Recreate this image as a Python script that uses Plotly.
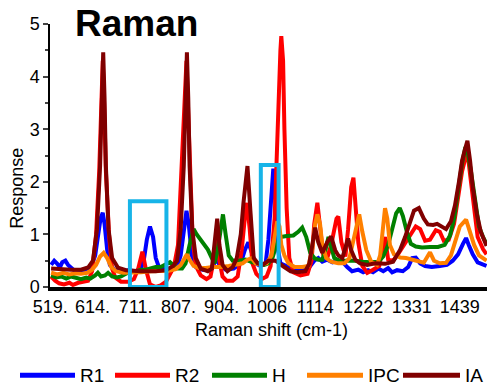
import plotly.graph_objects as go

# Raman shift (cm-1) and response for each sample
r1_shift = [521, 528, 535, 541, 546, 553, 559, 566, 575, 588, 602, 611, 620, 626, 632, 637, 641, 647, 653, 664,
            678, 694, 712, 723, 729, 736, 743, 750, 756, 763, 774, 790, 804, 812, 819, 825, 830, 837, 846, 861,
            875, 886, 893, 899, 913, 931, 947, 956, 964, 971, 980, 991, 1003, 1009, 1015, 1020, 1025, 1029, 1036, 1047,
            1059, 1074, 1090, 1103, 1112, 1121, 1130, 1141, 1153, 1164, 1175, 1186, 1197, 1211, 1222, 1233, 1244, 1256, 1267, 1278,
            1287, 1298, 1311, 1323, 1332, 1340, 1350, 1361, 1376, 1394, 1410, 1423, 1435, 1446, 1453, 1459, 1468, 1479, 1491, 1499]
r1_resp = [0.42, 0.50, 0.44, 0.38, 0.47, 0.50, 0.42, 0.36, 0.30, 0.28, 0.30, 0.38, 0.60, 0.95, 1.30, 1.41, 1.20, 0.70, 0.42, 0.33,
           0.30, 0.32, 0.30, 0.36, 0.50, 0.90, 1.15, 0.95, 0.55, 0.38, 0.35, 0.34, 0.38, 0.60, 1.00, 1.45, 1.20, 0.60, 0.38, 0.33,
           0.33, 0.42, 0.55, 0.42, 0.33, 0.35, 0.45, 0.70, 0.85, 0.65, 0.45, 0.40, 0.46, 0.90, 1.60, 2.25, 1.60, 0.80, 0.45, 0.40,
           0.36, 0.34, 0.36, 0.40, 0.50, 0.55, 0.48, 0.52, 0.47, 0.50, 0.48, 0.38, 0.30, 0.33, 0.28, 0.32, 0.28, 0.35, 0.30, 0.36,
           0.28, 0.32, 0.30, 0.38, 0.55, 0.56, 0.45, 0.40, 0.38, 0.40, 0.42, 0.50, 0.62, 0.82, 0.93, 0.80, 0.62, 0.47, 0.42, 0.40]

r2_shift = [521, 530, 539, 550, 562, 570, 582, 593, 604, 613, 622, 629, 633, 637, 640, 644, 651, 658, 665, 678,
            694, 707, 716, 726, 734, 743, 756, 767, 779, 785, 797, 806, 812, 819, 825, 829, 835, 839, 846, 857,
            870, 879, 886, 893, 899, 906, 915, 929, 940, 949, 956, 961, 967, 973, 982, 994, 1005, 1014, 1023, 1029,
            1036, 1038, 1042, 1045, 1050, 1056, 1065, 1081, 1097, 1106, 1112, 1119, 1126, 1132, 1141, 1150, 1162, 1166, 1173, 1182,
            1188, 1195, 1200, 1204, 1211, 1220, 1231, 1244, 1258, 1267, 1271, 1278, 1289, 1300, 1314, 1327, 1340, 1350, 1361, 1372,
            1385, 1394, 1403, 1414, 1426, 1435, 1444, 1453, 1457, 1464, 1471, 1479, 1491, 1499]
r2_resp = [0.20, 0.12, 0.07, 0.05, 0.08, 0.04, 0.08, 0.10, 0.12, 0.30, 1.00, 2.20, 3.50, 4.30, 3.50, 2.20, 1.00, 0.35, 0.18, 0.10,
           0.10, 0.15, 0.33, 0.67, 0.33, 0.05, 0.00, 0.03, 0.10, 0.20, 0.39, 0.80, 1.80, 3.30, 4.30, 3.30, 1.80, 0.90, 0.40, 0.22,
           0.15, 0.20, 0.50, 0.92, 0.50, 0.20, 0.12, 0.12, 0.20, 0.70, 1.30, 1.60, 1.10, 0.45, 0.25, 0.15, 0.20, 0.40, 1.30, 3.00,
           4.50, 4.77, 4.30, 3.00, 1.50, 0.55, 0.28, 0.22, 0.25, 0.50, 1.20, 1.60, 1.10, 0.62, 0.55, 0.80, 1.30, 1.34, 0.85, 0.58,
           1.10, 1.90, 2.08, 1.60, 0.84, 0.40, 0.27, 0.33, 0.40, 0.80, 0.95, 0.52, 0.50, 0.62, 0.80, 1.00, 1.15, 1.10, 0.88, 0.90,
           1.08, 1.05, 0.88, 0.90, 1.20, 1.70, 2.20, 2.50, 2.50, 2.00, 1.45, 0.95, 0.72, 0.62]

h_shift = [521, 532, 544, 555, 566, 577, 588, 600, 609, 620, 626, 633, 642, 649, 658, 669, 678, 689, 700, 712,
           723, 734, 745, 756, 767, 779, 788, 797, 806, 815, 823, 832, 841, 848, 857, 866, 873, 882, 888, 895,
           902, 907, 913, 920, 929, 942, 958, 973, 987, 1000, 1009, 1018, 1027, 1036, 1050, 1065, 1076, 1085, 1094, 1103,
           1112, 1121, 1130, 1137, 1144, 1150, 1157, 1170, 1186, 1204, 1220, 1238, 1256, 1267, 1278, 1287, 1296, 1304, 1311, 1320,
           1329, 1340, 1354, 1372, 1390, 1405, 1417, 1426, 1435, 1444, 1450, 1457, 1464, 1473, 1482, 1491, 1499]
h_resp = [0.22, 0.18, 0.20, 0.16, 0.20, 0.17, 0.15, 0.18, 0.16, 0.22, 0.27, 0.20, 0.22, 0.27, 0.20, 0.18, 0.20, 0.25, 0.30, 0.30,
          0.33, 0.33, 0.36, 0.38, 0.38, 0.42, 0.47, 0.40, 0.35, 0.35, 0.45, 0.80, 1.10, 1.00, 0.90, 0.80, 0.71, 0.55, 0.45, 0.70,
          1.15, 1.38, 1.00, 0.60, 0.50, 0.50, 0.52, 0.47, 0.45, 0.42, 0.45, 0.55, 0.80, 0.95, 0.97, 0.98, 1.05, 1.13, 0.95, 0.65,
          0.55, 0.52, 0.52, 0.70, 0.95, 0.75, 0.55, 0.50, 0.50, 0.50, 0.48, 0.47, 0.48, 0.58, 0.80, 1.10, 1.40, 1.50, 1.35, 1.05,
          0.82, 0.77, 0.75, 0.76, 0.76, 0.80, 0.98, 1.30, 1.90, 2.35, 2.60, 2.55, 2.20, 1.60, 1.15, 0.95, 0.82]

ipc_shift = [521, 535, 548, 562, 575, 588, 602, 613, 622, 631, 639, 647, 656, 667, 683, 700, 723, 745, 767, 785,
             801, 812, 819, 826, 832, 841, 853, 868, 884, 902, 920, 938, 951, 962, 971, 980, 991, 1005, 1016, 1023,
             1029, 1034, 1038, 1045, 1054, 1068, 1085, 1099, 1108, 1114, 1119, 1125, 1130, 1139, 1150, 1166, 1180, 1191, 1200, 1209,
             1213, 1220, 1229, 1240, 1253, 1260, 1267, 1271, 1276, 1282, 1291, 1305, 1318, 1332, 1345, 1358, 1372, 1381, 1394, 1408,
             1419, 1430, 1439, 1453, 1462, 1471, 1482, 1493, 1499]
ipc_resp = [0.27, 0.24, 0.27, 0.24, 0.26, 0.25, 0.27, 0.33, 0.42, 0.58, 0.65, 0.55, 0.38, 0.30, 0.27, 0.27, 0.28, 0.30, 0.30, 0.31,
            0.34, 0.42, 0.52, 0.62, 0.52, 0.40, 0.36, 0.36, 0.38, 0.38, 0.40, 0.42, 0.45, 0.52, 0.55, 0.45, 0.42, 0.45, 0.60, 0.95,
            1.25, 1.15, 0.80, 0.60, 0.45, 0.38, 0.38, 0.40, 0.75, 1.20, 1.38, 1.20, 0.80, 0.55, 0.48, 0.45, 0.45, 0.55, 0.90, 1.25,
            1.38, 1.05, 0.70, 0.48, 0.42, 0.60, 1.20, 1.50, 1.30, 0.80, 0.62, 0.56, 0.55, 0.52, 0.48, 0.46, 0.66, 0.50, 0.45, 0.46,
            0.60, 0.90, 1.15, 1.28, 1.05, 0.80, 0.60, 0.52, 0.50]

ia_shift = [521, 544, 566, 588, 604, 615, 624, 631, 635, 638, 641, 644, 650, 658, 671, 689, 723, 756, 779, 795,
            804, 812, 819, 823, 826, 829, 832, 838, 846, 857, 873, 882, 888, 894, 899, 906, 917, 929, 938, 947,
            953, 962, 969, 976, 985, 996, 1009, 1025, 1043, 1059, 1074, 1092, 1101, 1108, 1114, 1121, 1130, 1141, 1150, 1159,
            1166, 1175, 1182, 1188, 1195, 1204, 1215, 1231, 1249, 1271, 1289, 1305, 1316, 1327, 1336, 1347, 1358, 1367, 1379, 1388,
            1397, 1408, 1419, 1428, 1437, 1444, 1450, 1456, 1462, 1468, 1477, 1486, 1499]
ia_resp = [0.35, 0.33, 0.33, 0.33, 0.37, 0.50, 1.10, 2.30, 3.60, 4.46, 3.60, 2.30, 1.10, 0.55, 0.37, 0.32, 0.30, 0.30, 0.32, 0.40,
           0.50, 1.10, 2.30, 3.60, 4.46, 3.60, 2.30, 1.10, 0.55, 0.35, 0.30, 0.35, 0.80, 1.30, 0.80, 0.42, 0.30, 0.38, 0.55, 1.00,
           1.60, 2.30, 1.40, 0.55, 0.45, 0.42, 0.50, 0.50, 0.39, 0.30, 0.28, 0.30, 0.45, 0.85, 1.13, 0.85, 0.65, 0.85, 0.96, 0.70,
           0.60, 0.55, 0.75, 0.92, 0.70, 0.52, 0.45, 0.42, 0.45, 0.44, 0.48, 0.71, 0.95, 1.22, 1.45, 1.50, 1.30, 1.19, 1.18, 1.20,
           1.15, 1.10, 1.25, 1.55, 2.00, 2.40, 2.60, 2.78, 2.40, 1.90, 1.40, 1.05, 0.78]

series = [
    ("R1", r1_shift, r1_resp, "#0000FF"),
    ("R2", r2_shift, r2_resp, "#FF0000"),
    ("H", h_shift, h_resp, "#008000"),
    ("IPC", ipc_shift, ipc_resp, "#FF8000"),
    ("IA", ia_shift, ia_resp, "#800000"),
]

tick_values = [519, 614, 711, 807, 904, 1006, 1114, 1222, 1331, 1439]
tick_text = ["519.", "614.", "711.", "807.", "904.", "1006", "1114", "1222", "1331", "1439"]

# highlighted bands (cm-1) and their heights
highlight_bands = [(698, 780, 1.63), (992, 1032, 2.32)]

FONT = "Liberation Sans, Arial, sans-serif"
W, H = 489, 386
L, R, T, B = 50, 2, 24, 98.5
plot_w = W - L - R
plot_h = H - T - B


def px_x(px):
    return (px - L) / plot_w


def px_y(py):
    return (H - B - py) / plot_h


fig = go.Figure()
for name, xs, ys, color in series:
    fig.add_trace(go.Scatter(x=xs, y=ys, mode="lines", name=name,
                             line=dict(color=color, width=4), showlegend=False))

for x0, x1, top in highlight_bands:
    fig.add_shape(type="rect", xref="x", yref="y", x0=x0, x1=x1, y0=0, y1=top,
                  line=dict(color="#17B4E8", width=4), fillcolor="rgba(0,0,0,0)")

# legend row under the axis title
legend_items = [(20, 75), (115, 170), (212, 267), (307, 363), (403, 460)]
ly = px_y(376)
for (name, _, _, color), (a, b) in zip(series, legend_items):
    fig.add_shape(type="line", xref="paper", yref="paper", x0=px_x(a), x1=px_x(b), y0=ly, y1=ly,
                  line=dict(color=color, width=5))
    fig.add_annotation(xref="paper", yref="paper", x=px_x(b + 3), y=ly, text=name, showarrow=False,
                       xanchor="left", yanchor="middle", font=dict(family=FONT, size=19, color="black"))

fig.add_annotation(xref="paper", yref="paper", x=px_x(136), y=px_y(23), text="<b>Raman</b>", showarrow=False,
                   xanchor="center", yanchor="middle", font=dict(family=FONT, size=37, color="black"))
fig.add_annotation(xref="paper", yref="paper", x=px_x(271), y=px_y(331), text="Raman shift (cm-1)",
                   showarrow=False, xanchor="center", yanchor="middle", font=dict(family=FONT, size=18, color="black"))
fig.add_annotation(xref="paper", yref="paper", x=px_x(17), y=px_y(189), text="Response", textangle=-90,
                   showarrow=False, xanchor="center", yanchor="middle", font=dict(family=FONT, size=18, color="black"))

fig.update_layout(
    width=W, height=H,
    margin=dict(l=L, r=R, t=T, b=B, pad=0),
    paper_bgcolor="white", plot_bgcolor="white",
    font=dict(family=FONT, size=18, color="black"),
    xaxis=dict(range=[518.5, 1500], tickvals=tick_values, ticktext=tick_text, showgrid=False,
               zeroline=False, showline=True, linecolor="black", linewidth=4, ticks="",
               tickfont=dict(size=18)),
    yaxis=dict(range=[0, 5], dtick=1, showgrid=False, zeroline=False, showline=True,
               linecolor="black", linewidth=1.5, ticks="outside", ticklen=5, tickwidth=1.5,
               tickfont=dict(size=18),
               minor=dict(dtick=0.5, ticks="outside", ticklen=3, tickwidth=1.5)),
)

fig.write_html("out.html")
